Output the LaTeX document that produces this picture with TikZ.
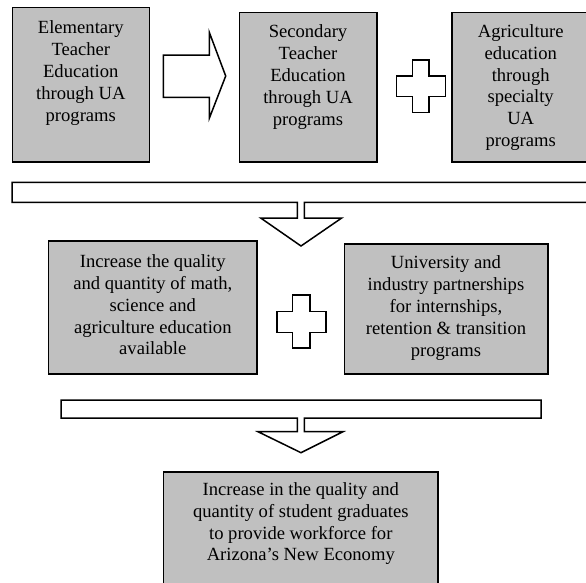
\documentclass[tikz,border=0pt]{standalone}
\usepackage{fontspec}
\setmainfont{Liberation Serif}
\definecolor{boxgray}{RGB}{192,192,192}
\begin{document}
\begin{tikzpicture}[x=1pt,y=-1pt,
  box/.style={draw=black,fill=boxgray,line width=1.6pt,inner sep=0pt},
  txt/.style={align=center,inner sep=0pt,font=\fontsize{18.6}{21.8}\selectfont},
  blockarrow/.style={draw=black,fill=white,line width=1.5pt,line join=miter}]
\useasboundingbox (0,0) rectangle (586,582);
\clip (0,0) rectangle (586,582);
% boxes
\node[box,minimum width=137pt,minimum height=154.4pt] (b1) at (80.8,84.5) {};
\node[box,minimum width=137.4pt,minimum height=149.4pt] (b2) at (308,87) {};
\node[box,minimum width=137pt,minimum height=149.4pt] (b3) at (520.7,87) {};
\node[box,minimum width=208.4pt,minimum height=133.3pt] (b4) at (152.8,307.5) {};
\node[box,minimum width=203.2pt,minimum height=130.3pt] (b5) at (446.1,309) {};
\node[box,minimum width=274.5pt,minimum height=130pt] (b6) at (300.8,537) {};
% texts
\node[txt] (t1) at (80.8,73) {Elementary\\Teacher\\Education\\through UA\\programs};
\node[txt] (t2) at (308,77) {Secondary\\Teacher\\Education\\through UA\\programs};
\node[txt] (t3) at (520.7,87.5) {Agriculture\\education\\through\\specialty\\UA\\programs};
\node[txt] (t4) at (152.8,305) {Increase the quality\\and quantity of math,\\science and\\agriculture education\\available};
\node[txt] (t5) at (446,308) {University and\\industry partnerships\\for internships,\\retention \& transition\\programs};
\node[txt] (t6) at (300.8,523.8) {Increase in the quality and\\quantity of student graduates\\to provide workforce for\\Arizona’s New Economy};
% right block arrow between b1 and b2
\draw[blockarrow] (163.3,55) -- (209.3,55) -- (209.3,32.3) -- (225.7,76) -- (209.3,118.3) -- (209.3,97.3) -- (163.3,97.3) -- cycle;
% plus signs
\draw[blockarrow] (412.3,60) -- (429,60) -- (429,76) -- (445.7,76) -- (445.7,96.7) -- (429,96.7) -- (429,112.3) -- (412.3,112.3) -- (412.3,96.7) -- (396.7,96.7) -- (396.7,76) -- (412.3,76) -- cycle;
\draw[blockarrow] (292.7,295) -- (310,295) -- (310,311.7) -- (326,311.7) -- (326,332.3) -- (310,332.3) -- (310,348) -- (292.7,348) -- (292.7,332.3) -- (277,332.3) -- (277,311.7) -- (292.7,311.7) -- cycle;
% bar with down arrow 1
\draw[blockarrow] (12,182.3) -- (592,182.3) -- (592,202.3) -- (304.3,202.3) -- (304.3,218) -- (341.7,218) -- (301,246) -- (260.7,218) -- (297.3,218) -- (297.3,202.3) -- (12,202.3) -- cycle;
% bar with down arrow 2
\draw[blockarrow] (61,400) -- (541,400) -- (541,418) -- (304.3,418) -- (304.3,431.7) -- (343,431.7) -- (301,452.7) -- (258,431.7) -- (297.3,431.7) -- (297.3,418) -- (61,418) -- cycle;
\end{tikzpicture}
\end{document}
